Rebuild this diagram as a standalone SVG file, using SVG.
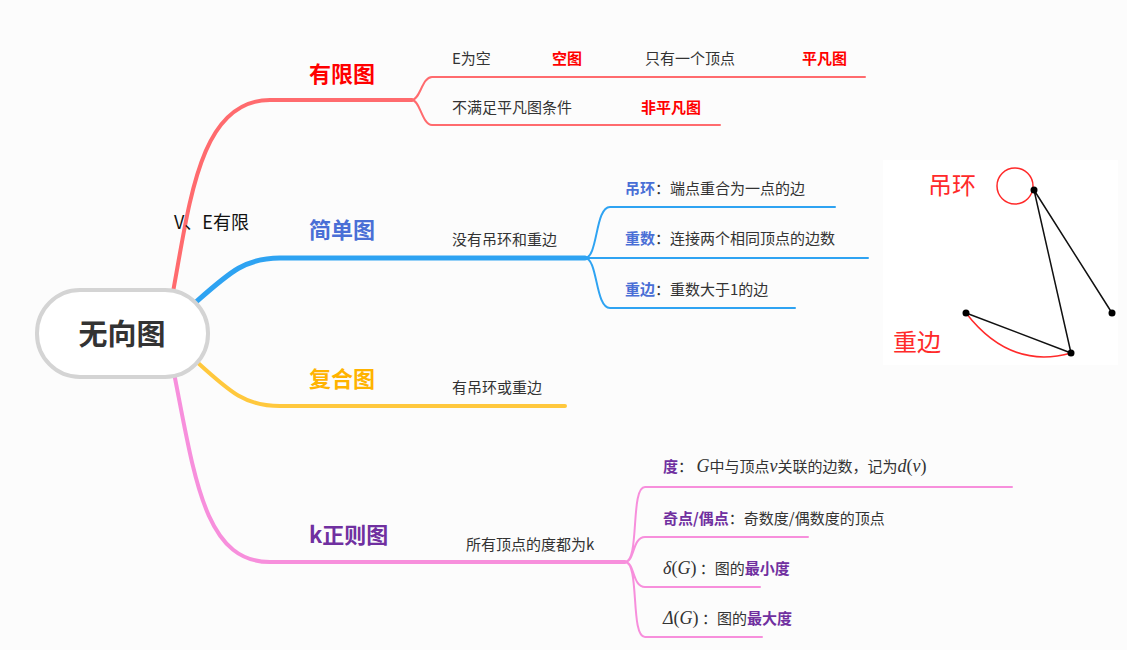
<svg xmlns="http://www.w3.org/2000/svg" width="1127" height="650" viewBox="0 0 1127 650">
<style>
text{font-family:"Noto Sans CJK SC","Liberation Sans",sans-serif;}
.t{font-size:15px;fill:#333}
.b{font-weight:bold}
.h{font-size:22px;font-weight:bold}
.br{fill:none;stroke-linecap:round}
.m{font-family:"Liberation Serif","Noto Sans CJK SC",serif;font-style:italic;font-size:18px}
.p{font-family:"Liberation Serif",serif;font-size:18px}
</style>
<rect width="1127" height="650" fill="#fcfcfc"/>
<g id="connectors">
<path class="br" d="M173,292 C190,200 200,100 270,100 L412,100" stroke="#ff6b6e" stroke-width="4"/>
<path class="br" d="M412,100 C420,100 422,77 432,77 L865,77 M412,100 C420,100 422,125 432,125 L720,125" stroke="#ff6b6e" stroke-width="2"/>
<path class="br" d="M196,302 C230,272 245,258 280,258 L585,258" stroke="#2ea3f2" stroke-width="5"/>
<path class="br" d="M585,258 C598,258 595,207 610,207 L835,207 M585,258 L868,258 M585,258 C598,258 595,308 610,308 L795,308" stroke="#2ea3f2" stroke-width="2"/>
<path class="br" d="M197,362 C230,392 245,406 280,406 L565,406" stroke="#ffc83d" stroke-width="4"/>
<path class="br" d="M174,373 C195,480 205,562 270,562 L625,562" stroke="#f78fdc" stroke-width="4"/>
<path class="br" d="M625,562 C640,562 630,487 645,487 L1012,487 M625,562 C635,562 632,537 645,537 L808,537 M625,562 C635,562 632,587 645,587 L760,587 M625,562 C640,562 630,637 645,637 L762,637" stroke="#f78fdc" stroke-width="2"/>
</g>
<g id="root">
<rect x="37" y="290" width="171" height="87" rx="43" fill="#fff" stroke="#d4d4d4" stroke-width="4"/>
<text x="122" y="345" font-size="29" class="b" fill="#333" text-anchor="middle">无向图</text>
</g>
<g id="edge-label"><text x="174" y="229" font-size="18" fill="#111">V、E有限</text></g>
<g id="finite">
<text x="309" y="82" class="h" fill="#ff0000">有限图</text>
<text x="452" y="64" class="t">E为空</text>
<text x="552" y="64" class="t b" style="fill:#ff0000">空图</text>
<text x="645" y="64" class="t">只有一个顶点</text>
<text x="802" y="64" class="t b" style="fill:#ff0000">平凡图</text>
<text x="452" y="113" class="t">不满足平凡图条件</text>
<text x="641" y="113" class="t b" style="fill:#ff0000">非平凡图</text>
</g>
<g id="simple">
<text x="309" y="238" class="h" fill="#4a6fd6">简单图</text>
<text x="452" y="245" class="t">没有吊环和重边</text>
<text x="625" y="194" class="t"><tspan class="b" fill="#4a6fd6">吊环</tspan>：端点重合为一点的边</text>
<text x="625" y="244" class="t"><tspan class="b" fill="#4a6fd6">重数</tspan>：连接两个相同顶点的边数</text>
<text x="625" y="295" class="t"><tspan class="b" fill="#4a6fd6">重边</tspan>：重数大于1的边</text>
</g>
<g id="figure">
<rect x="883" y="160" width="235" height="205" fill="#fff"/>
<circle cx="1015" cy="186" r="18" fill="none" stroke="#ff2a2a" stroke-width="1.5"/>
<path d="M1034,190 L1112,313 M1034,190 L1071,353 M966,313 L1071,353" stroke="#111" stroke-width="1.5"/>
<path d="M966,313 Q1010,370 1071,353" fill="none" stroke="#ff2a2a" stroke-width="1.5"/>
<circle cx="1034" cy="190" r="3.5" fill="#000"/>
<circle cx="1112" cy="313" r="3.5" fill="#000"/>
<circle cx="966" cy="313" r="3.5" fill="#000"/>
<circle cx="1071" cy="353" r="3.5" fill="#000"/>
<text x="928" y="194" font-size="24" fill="#ff2a2a">吊环</text>
<text x="893" y="351" font-size="24" fill="#ff2a2a">重边</text>
</g>
<g id="compound">
<text x="309" y="387" class="h" fill="#ffb300">复合图</text>
<text x="452" y="393" class="t">有吊环或重边</text>
</g>
<g id="kregular">
<text x="309" y="543" class="h" fill="#7030a0">k正则图</text>
<text x="466" y="550" class="t">所有顶点的度都为k</text>
<text x="663" y="472" class="t"><tspan class="b" fill="#7030a0">度</tspan>：  <tspan class="m">G</tspan>中与顶点<tspan class="m">v</tspan>关联的边数，记为<tspan class="m">d</tspan><tspan class="p">(</tspan><tspan class="m">v</tspan><tspan class="p">)</tspan></text>
<text x="663" y="524" class="t"><tspan class="b" fill="#7030a0">奇点/偶点</tspan>：奇数度/偶数度的顶点</text>
<text x="663" y="574" class="t"><tspan class="m">δ</tspan><tspan class="p">(</tspan><tspan class="m">G</tspan><tspan class="p">)</tspan> ：图的<tspan class="b" fill="#7030a0">最小度</tspan></text>
<text x="663" y="624" class="t"><tspan class="m">Δ</tspan><tspan class="p">(</tspan><tspan class="m">G</tspan><tspan class="p">)</tspan> ：图的<tspan class="b" fill="#7030a0">最大度</tspan></text>
</g>
</svg>
